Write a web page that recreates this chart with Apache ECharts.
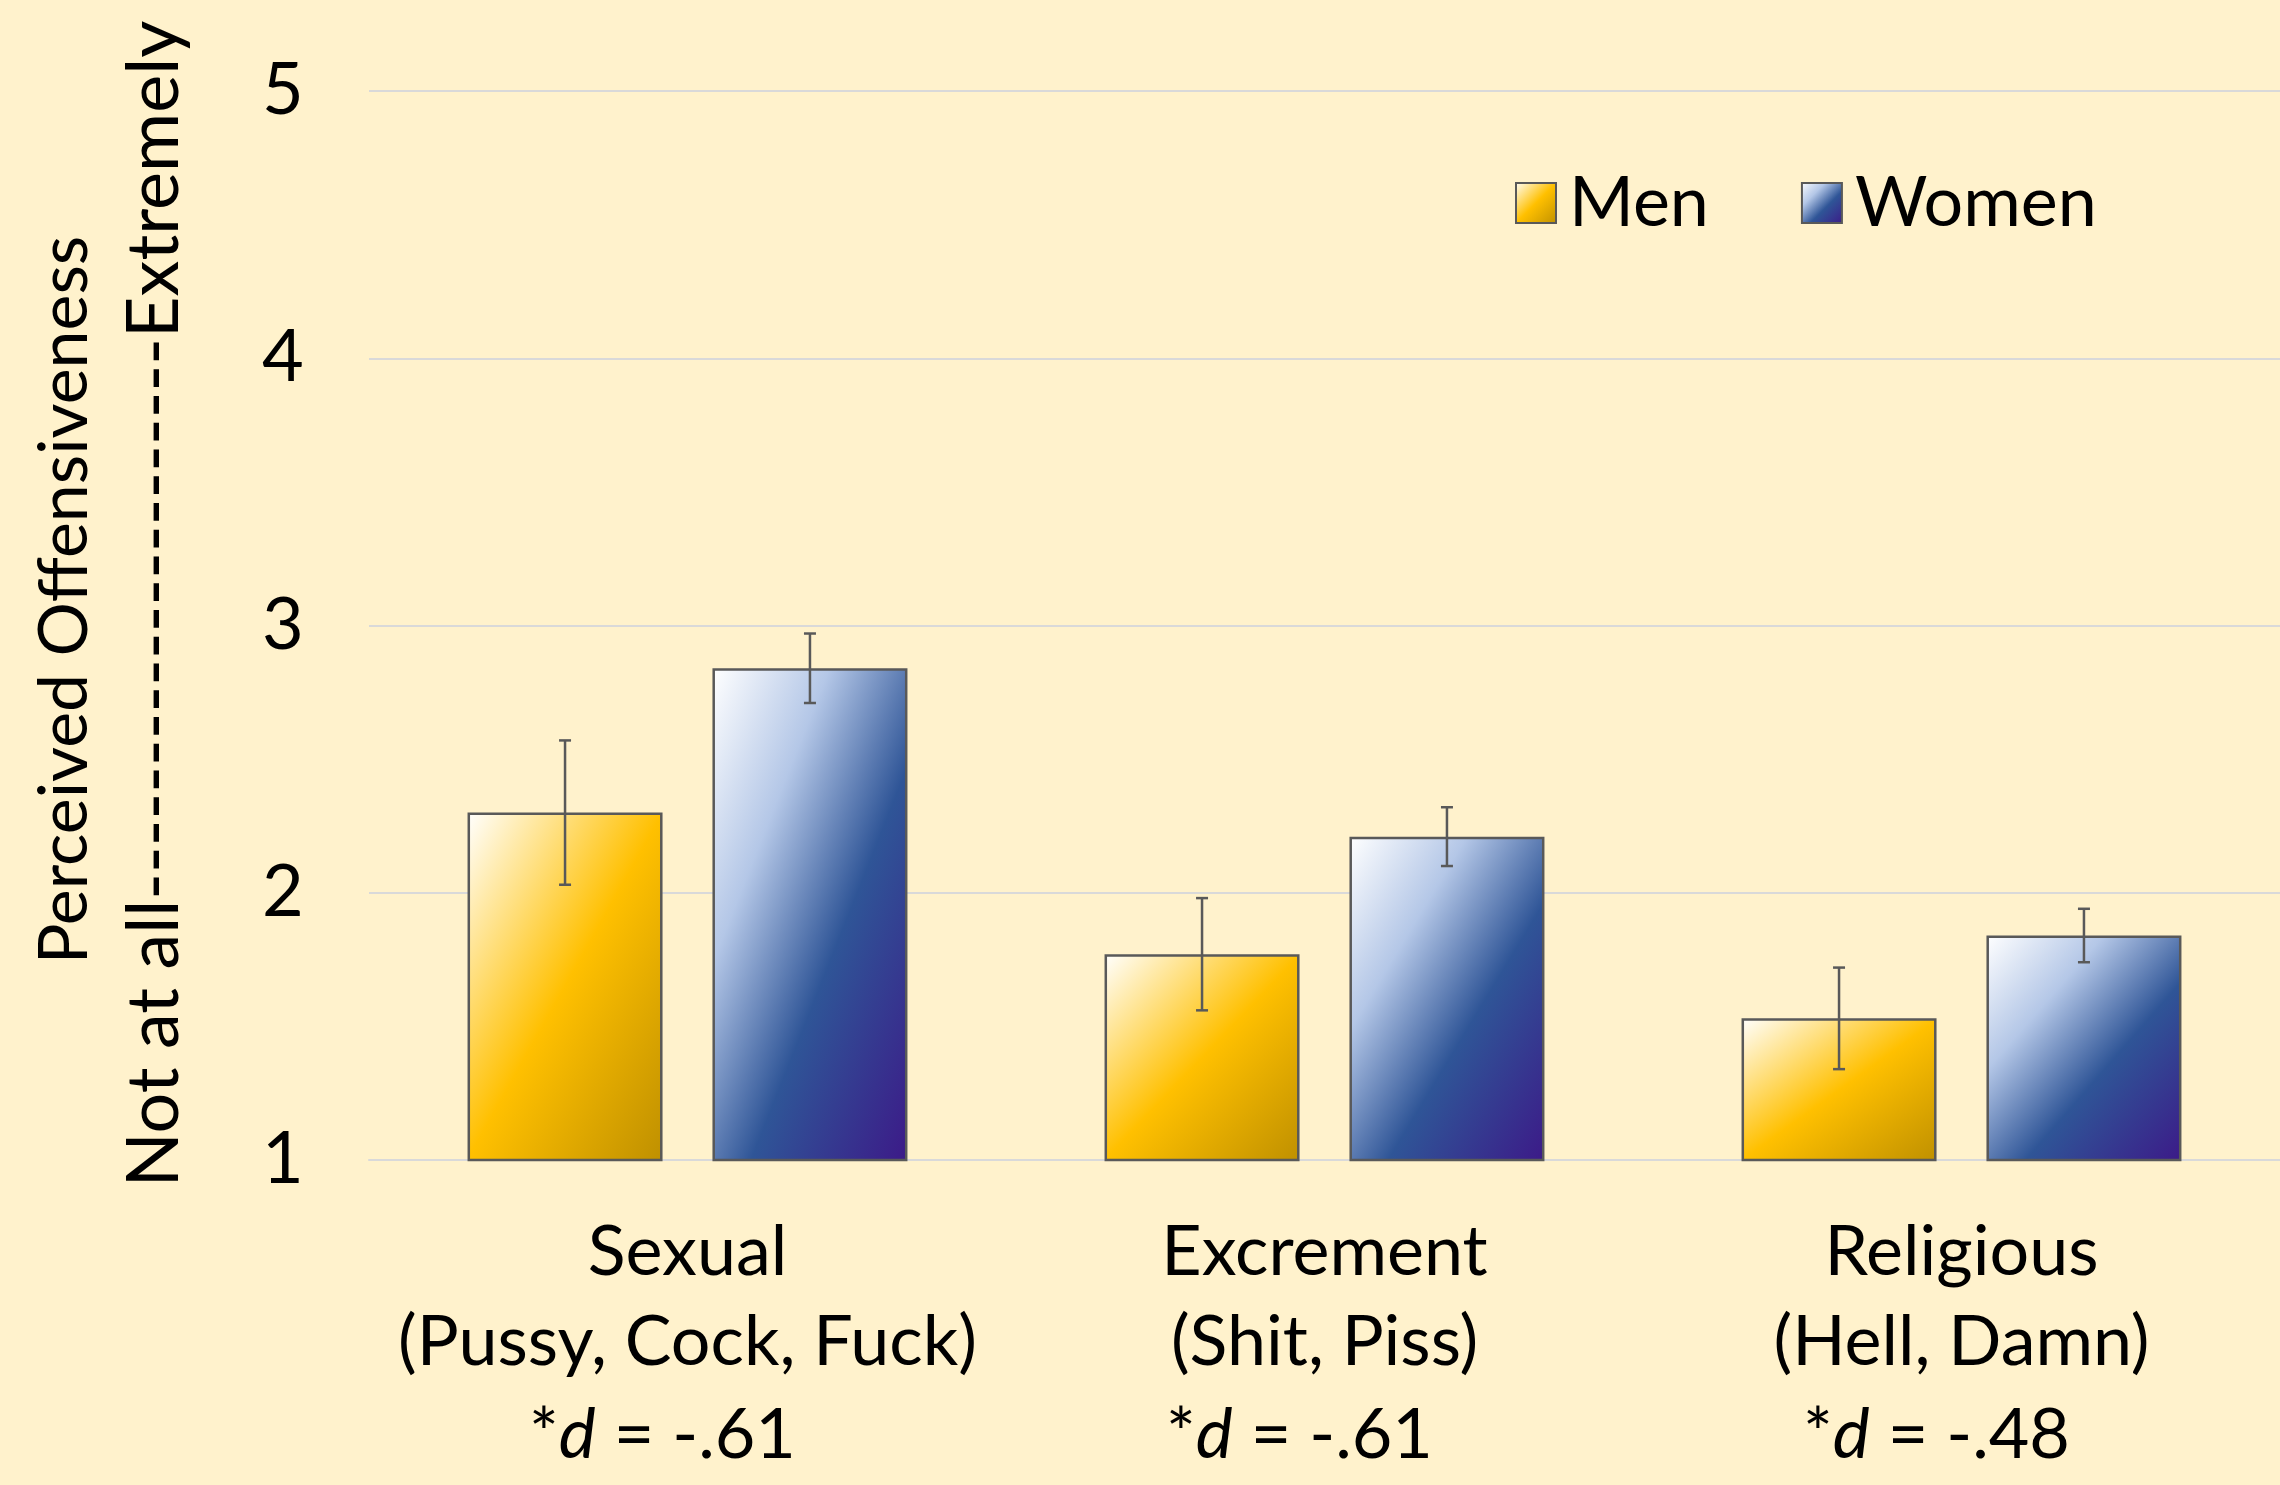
<!DOCTYPE html>
<html>
<head>
<meta charset="utf-8">
<script src="https://cdn.jsdelivr.net/npm/echarts@6/dist/echarts.min.js"></script>
<style>
  html, body { margin: 0; padding: 0; background: #FFF2CC; }
  #chart { width: 2280px; height: 1485px; }
</style>
</head>
<body>
<div id="chart"></div>
<script>
// --- DATEN ---
const categories = ['Sexual', 'Excrement', 'Religious'];
const wordLists = ['(Pussy, Cock, Fuck)', '(Shit, Piss)', '(Hell, Damn)'];
const effectSizes = ['-.61', '-.61', '-.48'];
const menMeans = [2.30, 1.77, 1.53];
const menErr = [0.27, 0.21, 0.19];
const womenMeans = [2.84, 2.21, 1.84];
const womenErr = [0.13, 0.11, 0.10];

// --- LAYOUT ---
const GRID = { left: 369, right: 0, top: 91, bottom: 325 };
const BAR_W = 195;
const BAR_GAP = 0.256;
const UNIT_PX = (1485 - GRID.top - GRID.bottom) / 4;
const FONT = 'Lato, "Open Sans", sans-serif';

const menStops = [
    { offset: 0, color: '#FFFFFF' },
    { offset: 0.5, color: '#FFC000' },
    { offset: 1, color: '#BF9000' }
];
const womenStops = [
    { offset: 0, color: '#FFFFFF' },
    { offset: 0.3, color: '#B4C7E7' },
    { offset: 0.6, color: '#2F5597' },
    { offset: 1, color: '#3C1A88' }
];

// Office-artiger Diagonalverlauf, der mit der Balkenform skaliert
function diagGradient(value, stops) {
    const h = Math.max((value - 1) * UNIT_PX, 1);
    const w = BAR_W;
    const s = h * h + w * w;
    return new echarts.graphic.LinearGradient(0, 0, 2 * h * h / s, 2 * w * w / s, stops);
}

function errorSeries(name, means, errs, side) {
    const offset = side * BAR_W * (1 + BAR_GAP) / 2;
    return {
        name: name,
        type: 'custom',
        z: 5,
        data: means.map((m, i) => [i, m - errs[i], m + errs[i]]),
        encode: { x: 0, y: [1, 2] },
        renderItem: (params, api) => {
            const top = api.coord([api.value(0), api.value(2)]);
            const bot = api.coord([api.value(0), api.value(1)]);
            const x = top[0] + offset;
            const cap = 6;
            const style = { stroke: '#595959', lineWidth: 2.5 };
            return {
                type: 'group',
                children: [
                    { type: 'line', shape: { x1: x, y1: top[1], x2: x, y2: bot[1] }, style },
                    { type: 'line', shape: { x1: x - cap, y1: top[1], x2: x + cap, y2: top[1] }, style },
                    { type: 'line', shape: { x1: x - cap, y1: bot[1], x2: x + cap, y2: bot[1] }, style }
                ]
            };
        }
    };
}

const chart = echarts.init(document.getElementById('chart'));

chart.setOption({
    backgroundColor: '#FFF2CC',
    textStyle: { fontFamily: FONT, color: '#000' },
    animation: false,
    grid: GRID,
    legend: {
        data: ['Men', 'Women'],
        left: 1510,
        top: 163,
        itemWidth: 40,
        itemHeight: 40,
        itemGap: 92,
        icon: 'rect',
        textStyle: { fontFamily: FONT, fontSize: 70, color: '#000', padding: [0, 0, 0, 8] }
    },
    xAxis: {
        type: 'category',
        data: categories,
        axisLine: { show: true, lineStyle: { color: '#D9D9D9', width: 2 } },
        axisTick: { show: false },
        axisLabel: {
            margin: 47,
            interval: 0,
            formatter: (val, idx) =>
                '{t|' + val + '}\n{t|' + wordLists[idx] + '}\n{t|*}{i|d}{t| = ' + effectSizes[idx] + '}{s|}',
            rich: {
                t: { fontFamily: FONT, fontSize: 70, lineHeight: 90, color: '#000' },
                i: { fontFamily: FONT, fontSize: 70, lineHeight: 90, color: '#000', fontStyle: 'italic' },
                s: { width: 50, lineHeight: 96 }
            }
        }
    },
    yAxis: {
        type: 'value',
        min: 1,
        max: 5,
        interval: 1,
        axisLine: { show: false },
        axisTick: { show: false },
        axisLabel: { margin: 86, align: 'center', fontFamily: FONT, fontSize: 72, color: '#000' },
        splitLine: { lineStyle: { color: '#D9D9D9', width: 2 } }
    },
    graphic: [
        {
            type: 'text',
            x: 65, y: 600,
            rotation: Math.PI / 2,
            style: {
                text: 'Perceived Offensiveness',
                font: '68px ' + FONT,
                fill: '#000',
                textAlign: 'center',
                textVerticalAlign: 'middle'
            }
        },
        {
            type: 'text',
            x: 155, y: 604,
            rotation: Math.PI / 2,
            style: {
                text: 'Not at all---------------------Extremely',
                font: '72px ' + FONT,
                fill: '#000',
                textAlign: 'center',
                textVerticalAlign: 'middle'
            }
        }
    ],
    series: [
        {
            name: 'Men',
            type: 'bar',
            barWidth: BAR_W,
            barGap: (BAR_GAP * 100) + '%',
            itemStyle: {
                color: new echarts.graphic.LinearGradient(0, 0, 1, 1, menStops),
                borderColor: '#595959',
                borderWidth: 2.5
            },
            data: menMeans.map(v => ({ value: v, itemStyle: { color: diagGradient(v, menStops) } }))
        },
        {
            name: 'Women',
            type: 'bar',
            barWidth: BAR_W,
            barGap: (BAR_GAP * 100) + '%',
            itemStyle: {
                color: new echarts.graphic.LinearGradient(0, 0, 1, 1, womenStops),
                borderColor: '#595959',
                borderWidth: 2.5
            },
            data: womenMeans.map(v => ({ value: v, itemStyle: { color: diagGradient(v, womenStops) } }))
        },
        errorSeries('Men SE', menMeans, menErr, -1),
        errorSeries('Women SE', womenMeans, womenErr, 1)
    ]
});

window.addEventListener('resize', () => chart.resize());
</script>
</body>
</html>
